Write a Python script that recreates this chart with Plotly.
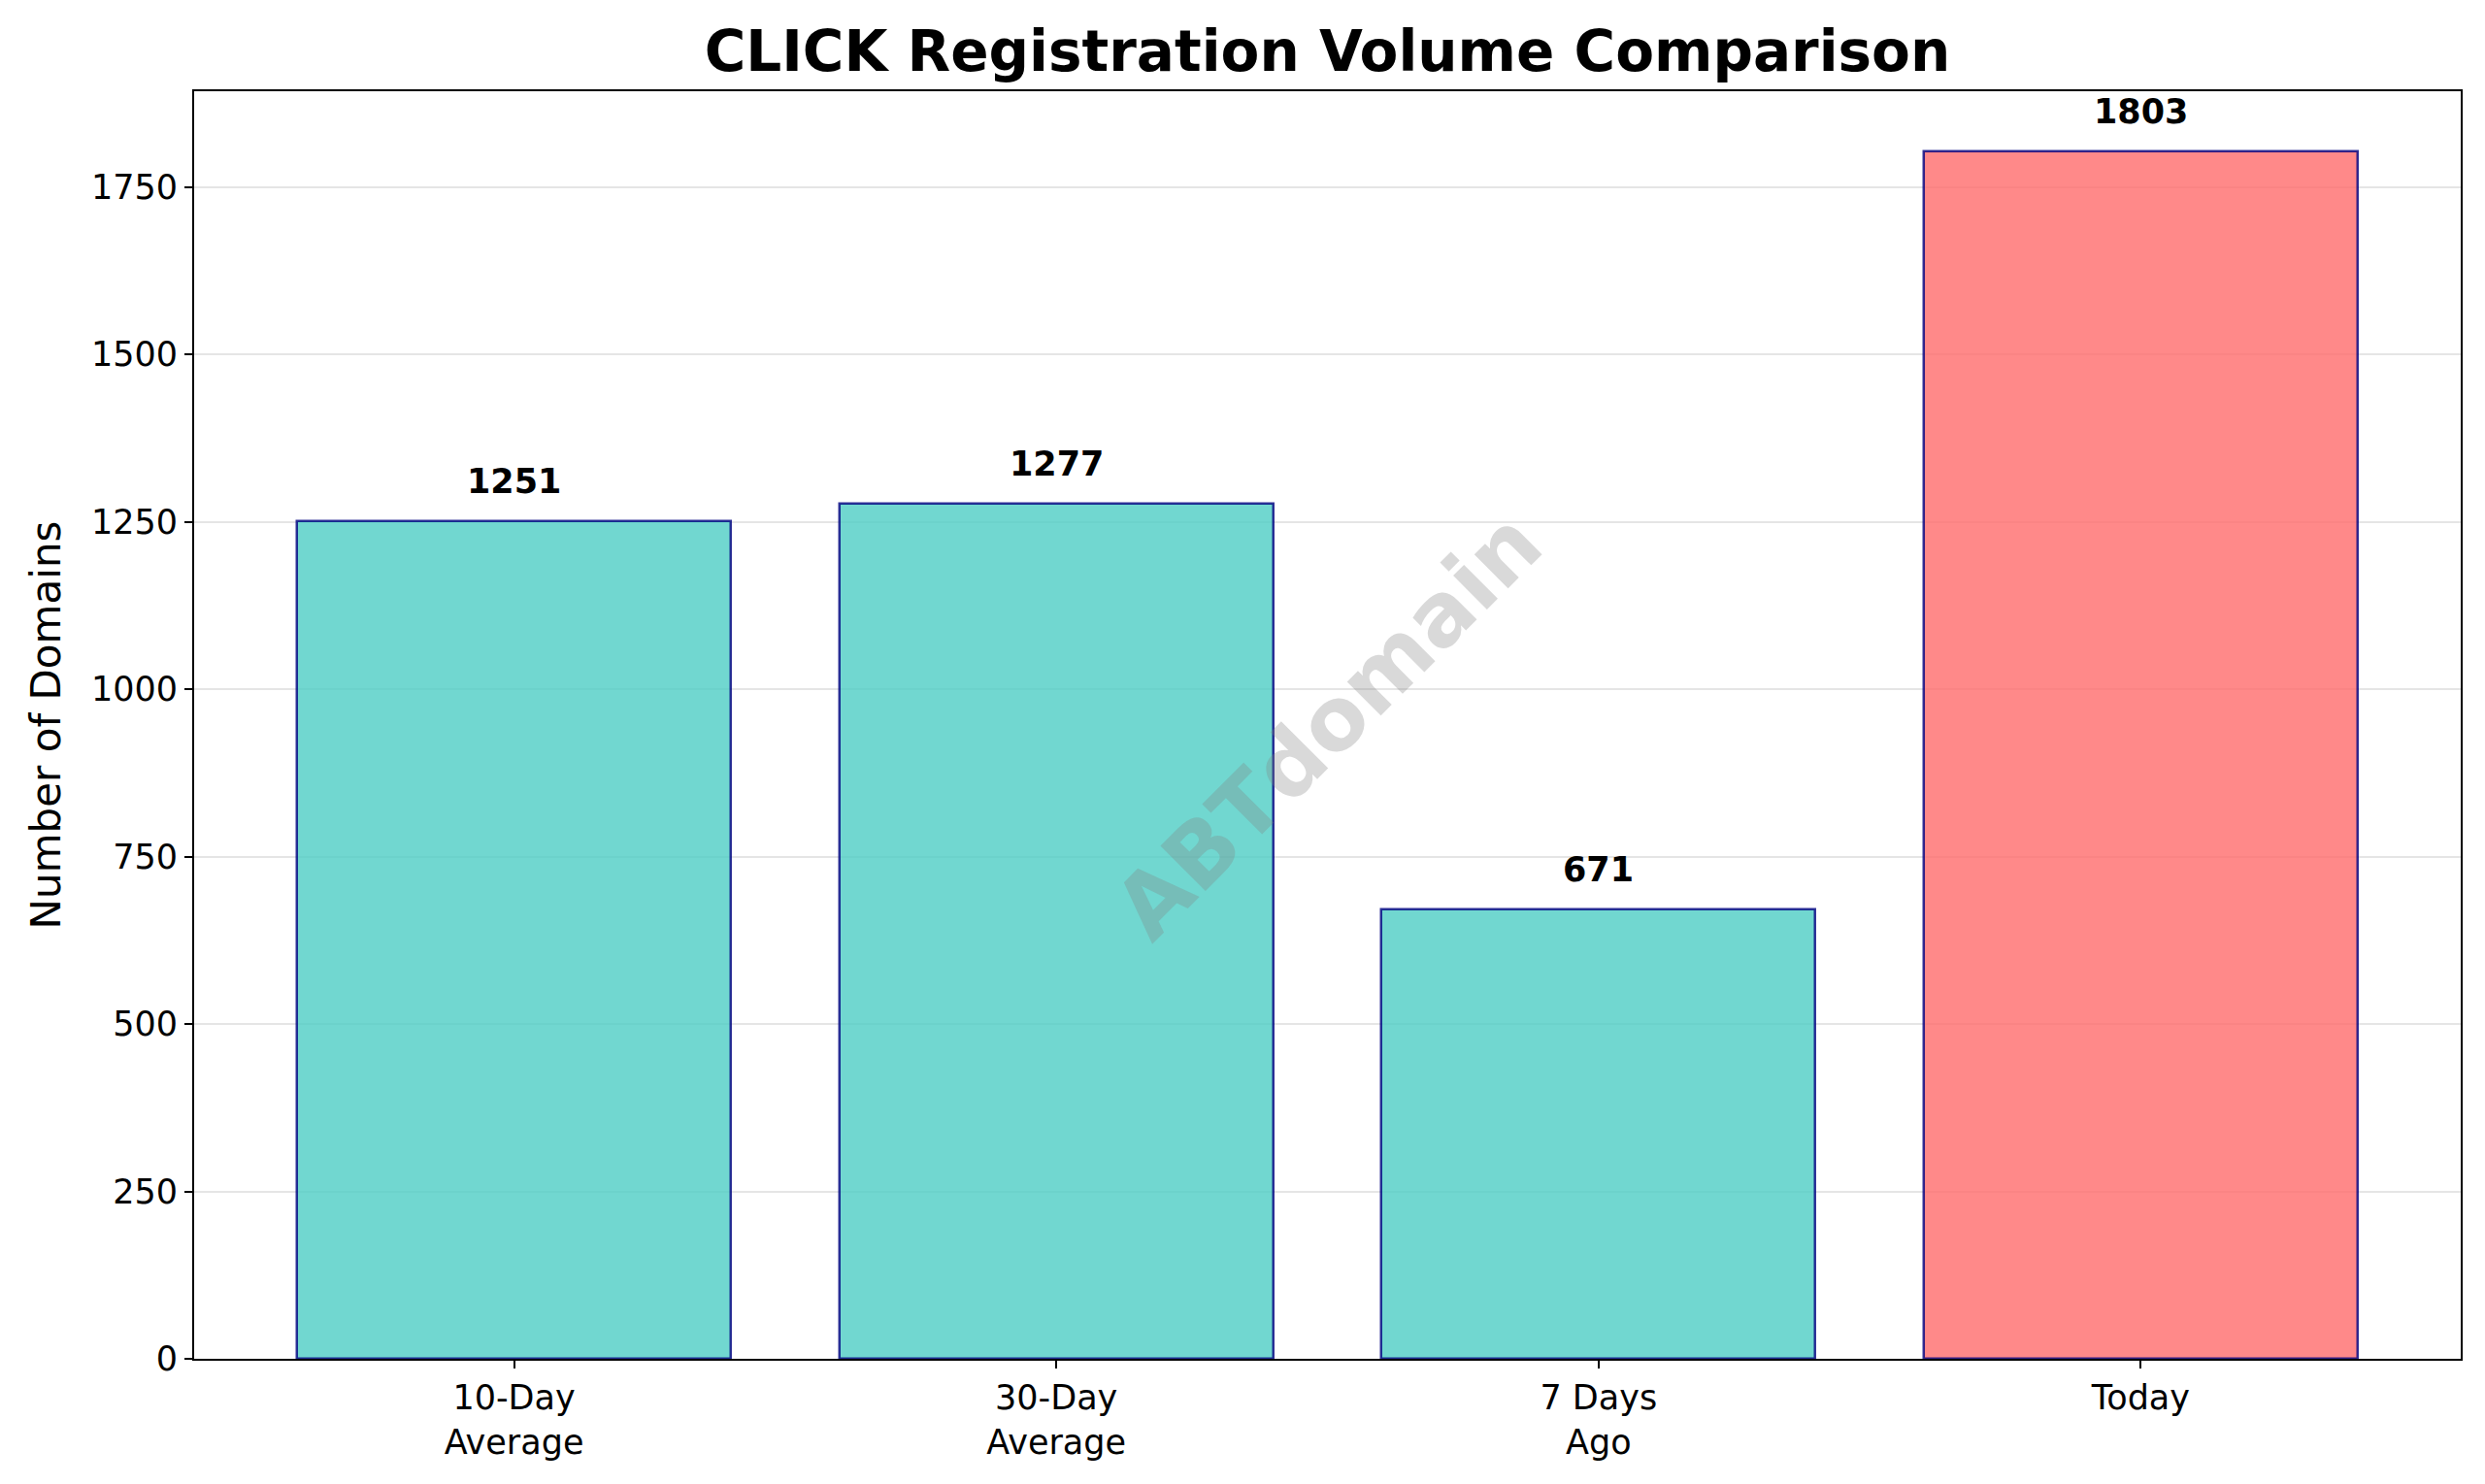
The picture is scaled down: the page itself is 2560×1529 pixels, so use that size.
import plotly.graph_objects as go

# bar categories and values
categories = ["10-Day<br>Average", "30-Day<br>Average", "7 Days<br>Ago", "Today"]
volumes = [1251, 1277, 671, 1803]
bar_colors = ["rgba(78,205,196,0.8)", "rgba(78,205,196,0.8)", "rgba(78,205,196,0.8)", "rgba(255,107,107,0.8)"]

y_ticks = [0, 250, 500, 750, 1000, 1250, 1500, 1750]

FONT = "DejaVu Sans"

fig = go.Figure(
    go.Bar(
        x=list(range(len(categories))),
        y=volumes,
        width=0.8,
        marker=dict(color=bar_colors, line=dict(color="rgba(0,0,128,0.8)", width=2.5)),
        showlegend=False,
        hoverinfo="skip",
    )
)

# value labels above bars
for i, v in enumerate(volumes):
    fig.add_annotation(
        x=i, y=v + max(volumes) * 0.015, text=f"<b>{v}</b>",
        showarrow=False, yanchor="bottom", xanchor="center",
        font=dict(family=FONT, size=35, color="black"),
    )

# watermark
fig.add_annotation(
    x=0.5, y=0.5, xref="paper", yref="paper", text="<b>ABTdomain</b>",
    showarrow=False, textangle=-45,
    font=dict(family=FONT, size=90, color="rgba(128,128,128,0.3)"),
)

fig.update_layout(
    width=2560,
    height=1529,
    margin=dict(l=192, r=33, t=86, b=137),
    paper_bgcolor="white",
    plot_bgcolor="white",
    font=dict(family=FONT, size=34, color="black"),
    title=dict(
        text="<b>CLICK Registration Volume Comparison</b>",
        xref="paper", x=0.5, xanchor="center", y=0.971, yanchor="middle",
        font=dict(family=FONT, size=58, color="black"),
    ),
    bargap=0,
)

fig.update_xaxes(
    range=[-0.59, 3.59],
    tickmode="array",
    tickvals=list(range(len(categories))),
    ticktext=categories,
    ticks="outside", ticklen=8, tickwidth=2, tickcolor="black",
    showline=True, linecolor="black", linewidth=2, mirror=True,
    showgrid=False, zeroline=False,
    tickfont=dict(family=FONT, size=35),
)
fig.update_yaxes(
    range=[0, 1893],
    tickmode="array",
    tickvals=y_ticks,
    ticks="outside", ticklen=8, tickwidth=2, tickcolor="black",
    showline=True, linecolor="black", linewidth=2, mirror=True,
    showgrid=True, gridcolor="rgba(0,0,0,0.1)", gridwidth=2,
    zeroline=False,
    title=dict(text="Number of Domains", font=dict(family=FONT, size=42), standoff=18),
    tickfont=dict(family=FONT, size=35),
)

fig.write_html("out.html")
